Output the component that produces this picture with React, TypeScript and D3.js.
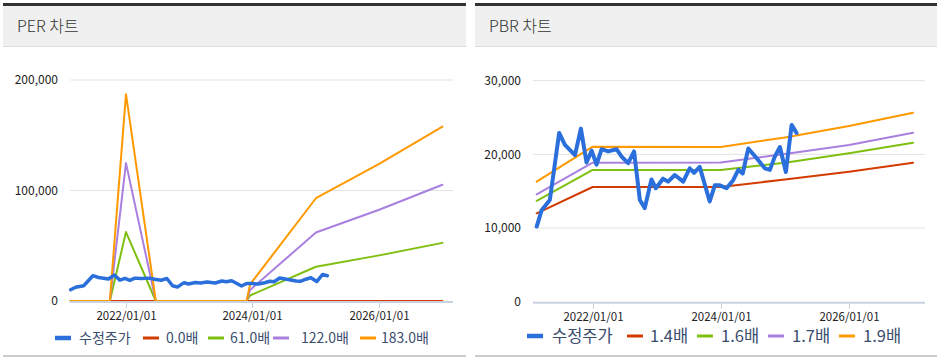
import * as d3 from "d3";
import React from "react";

// 수정주가 (shared by both charts)
const priceDates = [
  "2021-02-16", "2021-03-16", "2021-05-02", "2021-06-24", "2021-07-27", "2021-09-22",
  "2021-10-26", "2021-11-27", "2021-12-26", "2022-01-23", "2022-02-21", "2022-03-30",
  "2022-05-17", "2022-06-15", "2022-07-22", "2022-08-25", "2022-09-27", "2022-10-25",
  "2022-12-02", "2022-12-27", "2023-02-06", "2023-03-07", "2023-04-14", "2023-06-01",
  "2023-07-08", "2023-08-02", "2023-09-03", "2023-10-30", "2023-11-28", "2023-12-27",
  "2024-02-03", "2024-03-12", "2024-04-10", "2024-05-05", "2024-06-06", "2024-07-23",
  "2024-09-08", "2024-10-07", "2024-11-04", "2024-12-03", "2025-01-06", "2025-02-08",
  "2025-03-08",
];
const priceValues = [
  10200, 12400, 13800, 22900, 21300, 19900, 23500, 18900, 20500, 18600, 20700, 20400,
  20700, 19700, 18800, 20400, 13800, 12700, 16600, 15400, 16700, 16300, 17200, 16300,
  18100, 17500, 18300, 13600, 15800, 15800, 15400, 16500, 17900, 17400, 20800, 19500,
  18100, 17900, 19700, 21000, 17600, 24000, 22900,
];

// PER 배수 라인
const perDates = [
  "2021-02-16", "2021-09-30", "2022-01-01", "2022-06-22", "2023-11-28",
  "2023-12-18", "2025-01-01", "2026-01-01", "2027-01-01",
];
const per0 = [0, 0, 0, 0, 0, 0, 0, 0, 0];
const per61 = [0, 0, 62400, 0, 0, 5000, 31000, 41300, 52600];
const per122 = [0, 0, 124800, 0, 0, 10000, 62000, 82600, 105200];
const per183 = [0, 0, 187200, 0, 0, 15000, 93000, 124000, 157800];
const perTicks = [0, 100000, 200000];

// PBR 배수 라인
const pbrDates = ["2021-02-16", "2022-01-01", "2024-01-01", "2025-01-01", "2026-01-01", "2027-01-01"];
const pbr14 = [12000, 15570, 15570, 16600, 17650, 18870];
const pbr16 = [13700, 17880, 17880, 18870, 20140, 21580];
const pbr17 = [14580, 18870, 18900, 20050, 21270, 22940];
const pbr19 = [16300, 21040, 21000, 22300, 23850, 25660];
const pbrTicks = [0, 10000, 20000, 30000];

const xTickDates = ["2022-01-01", "2024-01-01", "2026-01-01"];

const COLORS = {
  price: "#2a6fdb",
  red: "#d23c00",
  green: "#7fbf0f",
  purple: "#a97fdf",
  orange: "#ff9900",
};

const FONT = "'Noto Sans CJK KR', 'Noto Sans', sans-serif";
const parse = d3.timeParse("%Y-%m-%d");
const fmt = d3.format(",");
const fmtDate = d3.timeFormat("%Y/%m/%d");

type Series = { name: string; color: string; width: number; dates: string[]; values: number[] };

type PanelProps = {
  x0: number;
  width: number;
  title: string;
  series: Series[];
  yTicks: number[];
  yMax: number;
  plot: { left: number; right: number; top: number; bottom: number };
  xDomain: [string, string];
  legend: { marker: number[]; text: number[]; size: number; y: number };
};

const Panel: React.FC<PanelProps> = ({ x0, width, title, series, yTicks, yMax, plot, xDomain, legend }) => {
  const xScale = d3
    .scaleTime()
    .domain([parse(xDomain[0]) as Date, parse(xDomain[1]) as Date])
    .range([plot.left, plot.right]);
  const yScale = d3.scaleLinear().domain([0, yMax]).range([plot.bottom, plot.top]);

  const lineFor = (s: Series) =>
    d3
      .line<number>()
      .x((_, i) => xScale(parse(s.dates[i]) as Date))
      .y((v) => yScale(v))(s.values) || "";

  // 수정주가 is drawn last so it sits on top
  const drawOrder = [...series.slice(1), series[0]];

  return (
    <g>
      <rect x={x0} y={3} width={width} height={3} fill="#333" />
      <rect x={x0} y={6} width={width} height={40} fill="#f0f0f0" />
      <rect x={x0} y={46} width={width} height={1} fill="#dcdcdc" />
      <text x={x0 + 14} y={32} fontSize={16} fill="#333" fontFamily={FONT} fontWeight={300}>
        {title}
      </text>

      {yTicks.map((t) => (
        <g key={t}>
          {t !== 0 && (
            <line x1={plot.left} x2={plot.right} y1={yScale(t)} y2={yScale(t)} stroke="#e3e3e3" strokeWidth={1} />
          )}
          <text
            x={plot.left - 12}
            y={yScale(t)}
            dy="0.35em"
            textAnchor="end"
            fontSize={12}
            fill="#222"
            fontFamily={FONT}
          >
            {fmt(t)}
          </text>
        </g>
      ))}

      {drawOrder.map((s) => (
        <path
          key={s.name}
          d={lineFor(s)}
          fill="none"
          stroke={s.color}
          strokeWidth={s.width}
          strokeLinejoin="round"
          strokeLinecap="round"
        />
      ))}

      <line x1={plot.left} x2={plot.right} y1={plot.bottom + 1} y2={plot.bottom + 1} stroke="#c9d3e0" strokeWidth={2} />
      {xTickDates.map((d) => {
        const x = Math.round(xScale(parse(d) as Date)) + 0.5;
        return (
          <g key={d}>
            <line x1={x} x2={x} y1={plot.bottom + 2} y2={plot.bottom + 7} stroke="#c9d3e0" strokeWidth={1} />
            <text x={x} y={plot.bottom + 19} textAnchor="middle" fontSize={11.5} fill="#222" fontFamily={FONT}>
              {fmtDate(parse(d) as Date)}
            </text>
          </g>
        );
      })}

      {series.map((s, i) => (
        <g key={s.name}>
          <line
            x1={legend.marker[i]}
            x2={legend.marker[i] + 16}
            y1={legend.y}
            y2={legend.y}
            stroke={s.color}
            strokeWidth={i === 0 ? 4.5 : 3}
          />
          <text
            x={legend.text[i]}
            y={legend.y}
            dy="0.36em"
            fontSize={legend.size}
            fill="#3a4d6e"
            fontFamily={FONT}
          >
            {s.name}
          </text>
        </g>
      ))}

      <rect x={x0} y={355} width={width} height={2} fill="#cccccc" />
    </g>
  );
};

const App: React.FC = () => {
  const perSeries: Series[] = [
    { name: "수정주가", color: COLORS.price, width: 3.5, dates: priceDates, values: priceValues },
    { name: "0.0배", color: COLORS.red, width: 2, dates: perDates, values: per0 },
    { name: "61.0배", color: COLORS.green, width: 2, dates: perDates, values: per61 },
    { name: "122.0배", color: COLORS.purple, width: 2, dates: perDates, values: per122 },
    { name: "183.0배", color: COLORS.orange, width: 2, dates: perDates, values: per183 },
  ];
  const pbrSeries: Series[] = [
    { name: "수정주가", color: COLORS.price, width: 4, dates: priceDates, values: priceValues },
    { name: "1.4배", color: COLORS.red, width: 2, dates: pbrDates, values: pbr14 },
    { name: "1.6배", color: COLORS.green, width: 2, dates: pbrDates, values: pbr16 },
    { name: "1.7배", color: COLORS.purple, width: 2, dates: pbrDates, values: pbr17 },
    { name: "1.9배", color: COLORS.orange, width: 2, dates: pbrDates, values: pbr19 },
  ];

  return (
    <div style={{ position: "absolute", left: 0, top: 0 }}>
      <svg width={939} height={361} style={{ display: "block", background: "#fff" }}>
        <Panel
          x0={3}
          width={463}
          title="PER 차트"
          series={perSeries}
          yTicks={perTicks}
          yMax={200000}
          plot={{ left: 70, right: 453, top: 80, bottom: 301 }}
          xDomain={["2021-02-12", "2027-03-03"]}
          legend={{ marker: [55, 143, 208, 273, 360], text: [79, 166, 230, 301, 381], size: 14, y: 338 }}
        />
        <Panel
          x0={475}
          width={462}
          title="PBR 차트"
          series={pbrSeries}
          yTicks={pbrTicks}
          yMax={30000}
          plot={{ left: 533, right: 925, top: 80.7, bottom: 301.7 }}
          xDomain={["2021-01-26", "2027-03-10"]}
          legend={{ marker: [527, 627, 697, 768, 839], text: [552, 650, 721, 792, 863], size: 16.5, y: 336 }}
        />
      </svg>
    </div>
  );
};

export default App;
